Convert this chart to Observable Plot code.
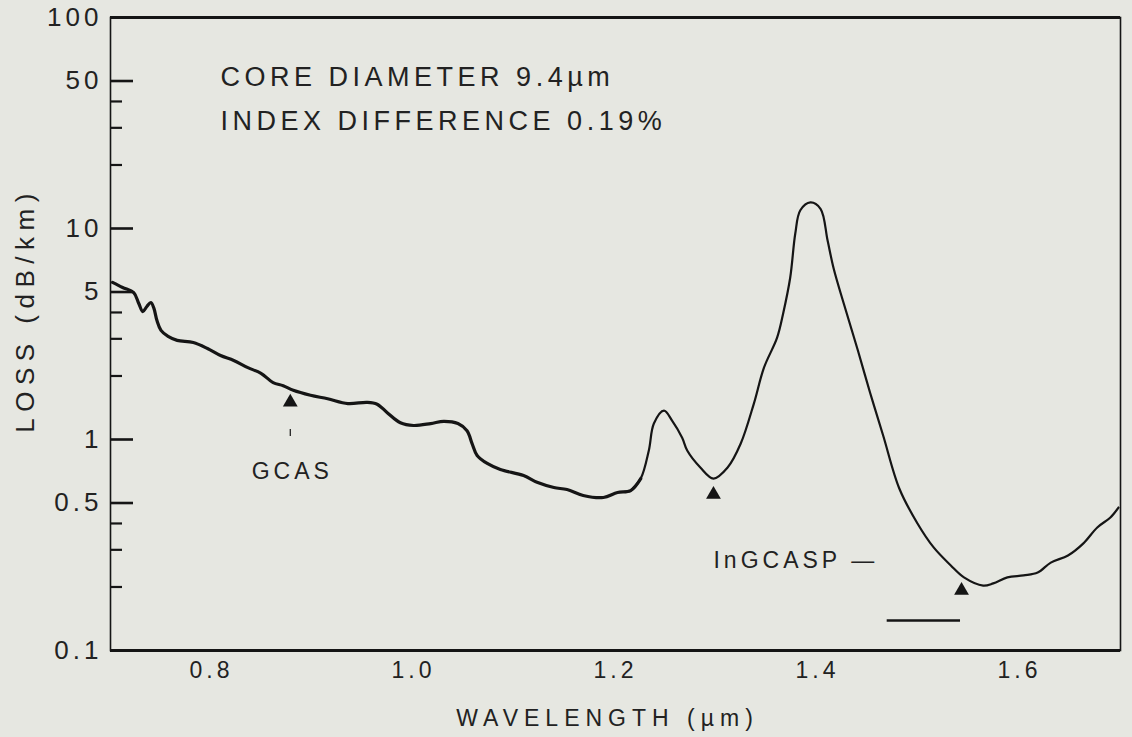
<!DOCTYPE html>
<html>
<head>
<meta charset="utf-8">
<script src="https://cdn.jsdelivr.net/npm/d3@7"></script>
<script src="https://cdn.jsdelivr.net/npm/@observablehq/plot@0.6"></script>
<style>
  html, body { margin: 0; padding: 0; background: #e6e7e1; }
  #chart { width: 1132px; height: 737px; }
  g[aria-label="y-axis tick label"] text { letter-spacing: 4px; }
  g[aria-label="x-axis tick label"] text { letter-spacing: 4px; }
  text[aria-label="notes"] { letter-spacing: 4.5px; }
  text[aria-label="x-title"] { letter-spacing: 6px; }
  text[aria-label="y-title"] { letter-spacing: 6.5px; }
  text[aria-label="tags"] { letter-spacing: 4px; }
</style>
</head>
<body>
<div id="chart"></div>
<script>
// Spectral loss curve (wavelength in µm, loss in dB/km)
const wavelength = [0.702,0.712,0.723,0.728,0.732,0.736,0.740,0.743,0.746,0.750,0.757,0.766,0.782,0.796,0.809,0.822,0.836,0.849,0.861,0.871,0.881,0.898,0.915,0.935,0.954,0.964,0.974,0.987,1.000,1.017,1.030,1.044,1.053,1.058,1.063,1.073,1.086,1.109,1.123,1.139,1.152,1.168,1.188,1.202,1.215,1.225,1.233,1.238,1.248,1.256,1.266,1.271,1.284,1.297,1.311,1.324,1.337,1.347,1.360,1.366,1.373,1.378,1.383,1.393,1.403,1.410,1.416,1.426,1.440,1.452,1.465,1.481,1.499,1.515,1.532,1.545,1.564,1.574,1.588,1.604,1.618,1.631,1.648,1.663,1.677,1.690,1.698];
const loss = [5.55,5.25,4.97,4.41,4.04,4.27,4.46,4.18,3.66,3.29,3.08,2.95,2.88,2.70,2.50,2.37,2.19,2.06,1.86,1.80,1.71,1.62,1.56,1.48,1.50,1.47,1.34,1.20,1.165,1.19,1.22,1.19,1.10,0.957,0.840,0.770,0.721,0.675,0.625,0.592,0.579,0.543,0.531,0.561,0.573,0.653,0.887,1.19,1.37,1.23,1.02,0.887,0.737,0.653,0.737,0.957,1.48,2.19,3.04,3.96,5.86,9.47,12.2,13.3,12.4,8.77,6.46,4.41,2.64,1.67,1.045,0.586,0.400,0.308,0.253,0.222,0.203,0.208,0.222,0.227,0.234,0.261,0.282,0.321,0.383,0.427,0.476];

// Axis ticks
const xTicks = [0.8, 1.0, 1.2, 1.4, 1.6];
const yLabelTicks = [0.1, 0.5, 1, 5, 10, 50, 100];
const yMajorTicks = [0.5, 1, 5, 10, 50];
const yMinorTicks = [0.2, 0.3, 0.4, 2, 3, 4, 20, 30, 40];

// Annotations
const noteText = ["CORE DIAMETER 9.4µm", "INDEX DIFFERENCE 0.19%"];
const noteX = [0.809, 0.809];
const noteY = [51.9, 32.1];

const markerX = [0.878, 1.297, 1.5426];
const markerY = [1.50, 0.549, 0.1925];

const tag1Text = "GCAS";
const tag1X = 0.880;
const tag1Y = 0.705;
const tag2Text = "InGCASP —";
const tag2X = 1.297;
const tag2Y = 0.267;

const gcasTickX = [0.878];
const gcasTickY = [1.033, 1.115];

const segX = [1.469, 1.5416];
const segY = [0.1387];

const xTitle = "WAVELENGTH (µm)";
const yTitle = "LOSS (dB/km)";

const curve = wavelength.map((w, i) => ({w, loss: loss[i]}));
const notes = noteText.map((t, i) => ({t, x: noteX[i], y: noteY[i]}));
const markers = markerX.map((x, i) => ({x, y: markerY[i]}));

const ink = "#151515";
const fontFamily = "'Liberation Sans', Arial, sans-serif";

const chart = Plot.plot({
  width: 1132,
  height: 737,
  marginTop: 17,
  marginBottom: 87,
  marginLeft: 110,
  marginRight: 12,
  style: {background: "#e6e7e1", color: ink, fontFamily},
  x: {domain: [0.7, 1.7]},
  y: {type: "log", domain: [0.1, 100]},
  marks: [
    Plot.frame({stroke: ink, strokeWidth: 1.6}),
    Plot.ruleY([100, 0.1], {stroke: ink, strokeWidth: 3}),
    Plot.axisY(yLabelTicks, {tickSize: 0, tickPadding: 8, fontSize: 26, tickFormat: d => String(d), label: null, fill: "#222"}),
    Plot.axisY(yMajorTicks, {tickSize: -23, tickFormat: () => "", label: null, stroke: ink, strokeWidth: 2.6}),
    Plot.axisY(yMinorTicks, {tickSize: -12, tickFormat: () => "", label: null, stroke: ink, strokeWidth: 2.2}),
    Plot.axisX(xTicks, {tickSize: 0, tickPadding: 11, fontSize: 23, tickFormat: d3.format(".1f"), label: null, fill: "#222"}),
    Plot.text([xTitle], {frameAnchor: "bottom", textAnchor: "middle", lineAnchor: "middle", dx: -8, dy: 68, fontSize: 23, fill: "#222", ariaLabel: () => "x-title"}),
    Plot.text([yTitle], {frameAnchor: "left", textAnchor: "middle", lineAnchor: "middle", dx: -85, dy: -24, rotate: -90, fontSize: 26, fill: "#222", ariaLabel: () => "y-title"}),
    Plot.line(curve.filter(d => d.w <= 1.225), {x: "w", y: "loss", curve: "catmull-rom", stroke: ink, strokeWidth: 3.2}),
    Plot.line(curve.filter(d => d.w >= 1.215), {x: "w", y: "loss", curve: "catmull-rom", stroke: ink, strokeWidth: 2.2}),
    Plot.dot(markers, {x: "x", y: "y", symbol: "triangle", r: 5.5, fill: ink, stroke: null}),
    Plot.ruleX(gcasTickX, {y1: gcasTickY[0], y2: gcasTickY[1], stroke: ink, strokeWidth: 1.2}),
    Plot.ruleY(segY, {x1: segX[0], x2: segX[1], stroke: ink, strokeWidth: 2.4}),
    Plot.text(notes, {x: "x", y: "y", text: "t", textAnchor: "start", fontSize: 27, fill: "#222", ariaLabel: () => "notes"}),
    Plot.text([tag1Text], {x: () => tag1X, y: () => tag1Y, textAnchor: "middle", fontSize: 23, fill: "#222", ariaLabel: () => "tags"}),
    Plot.text([tag2Text], {x: () => tag2X, y: () => tag2Y, textAnchor: "start", fontSize: 23, fill: "#222", ariaLabel: () => "tags"})
  ]
});
document.getElementById("chart").appendChild(chart);
</script>
</body>
</html>
